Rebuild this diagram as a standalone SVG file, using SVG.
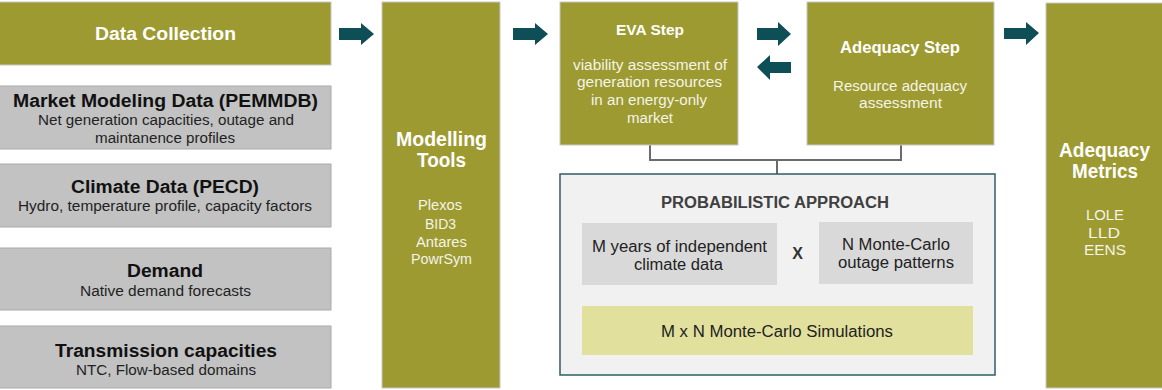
<svg xmlns="http://www.w3.org/2000/svg" width="1162" height="390" viewBox="0 0 1162 390">
<style>
.ol{fill:#9d9a31;stroke:#c8c8c8;stroke-width:1}
.gr{fill:#c2c2c2;stroke:#aaaaaa;stroke-width:1}
.t{font-family:"Liberation Sans",Arial,sans-serif;text-anchor:middle}
.wb{fill:#fff;font-weight:bold}
.w{fill:#f4f4e8}
.kb{fill:#111;font-weight:bold}
.k{fill:#222}
.arr{fill:#0e4e57}
.cn{fill:none;stroke:#6b6b6b;stroke-width:2}
</style>
<rect width="1162" height="390" fill="#fff"/>
<g id="connectors">
<polygon class="arr" points="339,28 361,28 361,23 374,34 361,45 361,40 339,40"/>
<polygon class="arr" points="513,28 535,28 535,23 548,34 535,45 535,40 513,40"/>
<polygon class="arr" points="757,28 778,28 778,22 791,34 778,46 778,40 757,40"/>
<polygon class="arr" points="791,62 770,62 770,55 757,67 770,80 770,73 791,73"/>
<polygon class="arr" points="1004,28 1026,28 1026,22 1039,33 1026,45 1026,39 1004,39"/>
<polyline class="cn" points="650,145 650,160 901,160 901,145"/>
<line class="cn" x1="777" y1="160" x2="777" y2="174"/>
</g>
<g id="data-collection">
<rect class="ol" x="-1" y="2" width="332" height="63"/>
<text class="t wb" x="165.5" y="40" font-size="18" textLength="141" lengthAdjust="spacingAndGlyphs">Data Collection</text>
</g>
<g id="market-modeling">
<rect class="gr" x="-1" y="86" width="332" height="63"/>
<text class="t kb" x="165.5" y="107" font-size="18" textLength="305" lengthAdjust="spacingAndGlyphs">Market Modeling Data (PEMMDB)</text>
<text class="t k" x="166" y="125" font-size="14" textLength="256" lengthAdjust="spacingAndGlyphs">Net generation capacities, outage and</text>
<text class="t k" x="165" y="143" font-size="14" textLength="140" lengthAdjust="spacingAndGlyphs">maintanence profiles</text>
</g>
<g id="climate-data">
<rect class="gr" x="-1" y="164" width="332" height="63"/>
<text class="t kb" x="165" y="193" font-size="18" textLength="188" lengthAdjust="spacingAndGlyphs">Climate Data (PECD)</text>
<text class="t k" x="165" y="211" font-size="14" textLength="294" lengthAdjust="spacingAndGlyphs">Hydro, temperature profile, capacity factors</text>
</g>
<g id="demand">
<rect class="gr" x="-1" y="248" width="332" height="62"/>
<text class="t kb" x="165" y="277" font-size="18" textLength="76" lengthAdjust="spacingAndGlyphs">Demand</text>
<text class="t k" x="165.5" y="296" font-size="14" textLength="171" lengthAdjust="spacingAndGlyphs">Native demand forecasts</text>
</g>
<g id="transmission">
<rect class="gr" x="-1" y="326" width="332" height="62"/>
<text class="t kb" x="166" y="357" font-size="18" textLength="222" lengthAdjust="spacingAndGlyphs">Transmission capacities</text>
<text class="t k" x="166" y="375" font-size="14" textLength="180" lengthAdjust="spacingAndGlyphs">NTC, Flow-based domains</text>
</g>
<g id="modelling-tools">
<rect class="ol" x="382" y="2" width="118" height="386"/>
<text class="t wb" x="441.5" y="146" font-size="20" textLength="91" lengthAdjust="spacingAndGlyphs">Modelling</text>
<text class="t wb" x="441.5" y="167" font-size="20" textLength="49" lengthAdjust="spacingAndGlyphs">Tools</text>
<text class="t w" x="440" y="210" font-size="14" textLength="44" lengthAdjust="spacingAndGlyphs">Plexos</text>
<text class="t w" x="440.5" y="229" font-size="14" textLength="31" lengthAdjust="spacingAndGlyphs">BID3</text>
<text class="t w" x="441.5" y="247" font-size="14" textLength="51" lengthAdjust="spacingAndGlyphs">Antares</text>
<text class="t w" x="441.5" y="264" font-size="14" textLength="61" lengthAdjust="spacingAndGlyphs">PowrSym</text>
</g>
<g id="eva-step">
<rect class="ol" x="560" y="2" width="178" height="143"/>
<text class="t wb" x="650" y="35" font-size="15" textLength="68" lengthAdjust="spacingAndGlyphs">EVA Step</text>
<text class="t w" x="650" y="70" font-size="14" textLength="154" lengthAdjust="spacingAndGlyphs">viability  assessment of</text>
<text class="t w" x="649.5" y="87" font-size="14" textLength="145" lengthAdjust="spacingAndGlyphs">generation  resources</text>
<text class="t w" x="649" y="105" font-size="14" textLength="116" lengthAdjust="spacingAndGlyphs">in an energy-only</text>
<text class="t w" x="650" y="123" font-size="14" textLength="46" lengthAdjust="spacingAndGlyphs">market</text>
</g>
<g id="adequacy-step">
<rect class="ol" x="807" y="2" width="187" height="143"/>
<text class="t wb" x="900" y="53" font-size="16" textLength="120" lengthAdjust="spacingAndGlyphs">Adequacy  Step</text>
<text class="t w" x="900" y="91" font-size="14" textLength="134" lengthAdjust="spacingAndGlyphs">Resource adequacy</text>
<text class="t w" x="900.5" y="108" font-size="14" textLength="83" lengthAdjust="spacingAndGlyphs">assessment</text>
</g>
<g id="adequacy-metrics">
<rect class="ol" x="1046" y="3" width="117" height="385"/>
<text class="t wb" x="1104.5" y="157" font-size="20" textLength="91" lengthAdjust="spacingAndGlyphs">Adequacy</text>
<text class="t wb" x="1105" y="178" font-size="20" textLength="66" lengthAdjust="spacingAndGlyphs">Metrics</text>
<text class="t w" x="1105" y="220" font-size="14" textLength="38" lengthAdjust="spacingAndGlyphs">LOLE</text>
<text class="t w" x="1104" y="238" font-size="14" textLength="32" lengthAdjust="spacingAndGlyphs">LLD</text>
<text class="t w" x="1105" y="255" font-size="14" textLength="42" lengthAdjust="spacingAndGlyphs">EENS</text>
</g>
<g id="probabilistic-approach">
<rect x="560" y="174" width="435" height="201" fill="#f1f1f1" stroke="#2f5d66" stroke-width="1.5"/>
<text class="t" x="775" y="208" font-size="16" font-weight="bold" fill="#404040" textLength="228" lengthAdjust="spacingAndGlyphs">PROBABILISTIC APPROACH</text>
</g>
<g id="m-years">
<rect x="582" y="223" width="195" height="62" fill="#d9d9d9"/>
<text class="t k" x="679.5" y="252" font-size="16" textLength="175" lengthAdjust="spacingAndGlyphs">M years of independent</text>
<text class="t k" x="678.5" y="270" font-size="16" textLength="89" lengthAdjust="spacingAndGlyphs">climate data</text>
</g>
<text class="t" x="797.5" y="259" font-size="16" font-weight="bold" fill="#333">X</text>
<g id="n-monte-carlo">
<rect x="819" y="222" width="154" height="62" fill="#d9d9d9"/>
<text class="t k" x="896" y="250" font-size="16" textLength="108" lengthAdjust="spacingAndGlyphs">N Monte-Carlo</text>
<text class="t k" x="896" y="268" font-size="16" textLength="116" lengthAdjust="spacingAndGlyphs">outage patterns</text>
</g>
<g id="mxn-simulations">
<rect x="582" y="306" width="391" height="49" fill="#e1e09d"/>
<text class="t k" x="777" y="337" font-size="16" textLength="232" lengthAdjust="spacingAndGlyphs">M x N Monte-Carlo Simulations</text>
</g>
</svg>
